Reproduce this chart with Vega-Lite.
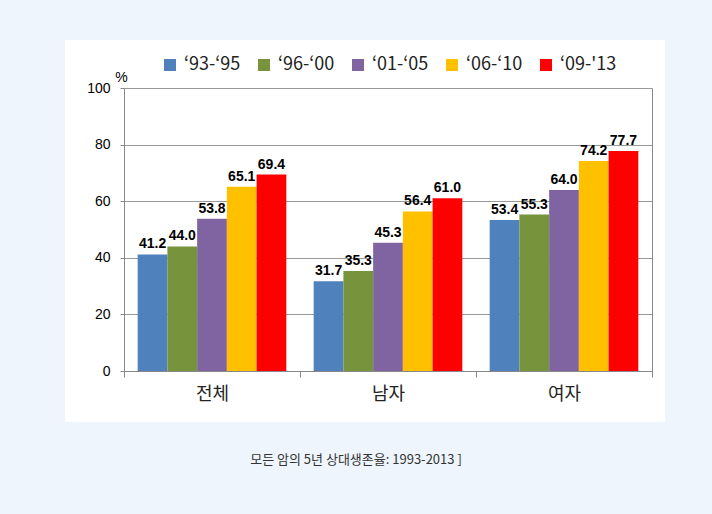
{
  "$schema": "https://vega.github.io/schema/vega-lite/v6.json",
  "width": 600,
  "height": 382,
  "autosize": {"type": "none"},
  "padding": {"left": 65, "top": 40, "right": 47, "bottom": 92},
  "background": "#eef5fc",
  "view": {"fill": "white", "stroke": null},
  "title": {
    "text": "모든 암의 5년 상대생존율: 1993-2013 ]",
    "orient": "bottom",
    "anchor": "middle",
    "offset": 32,
    "dx": -9,
    "font": "Noto Sans CJK KR",
    "fontSize": 13,
    "fontWeight": "normal",
    "color": "#333333",
    "baseline": "top"
  },
  "data": {
    "values": [
      {"group": "전체", "period": "‘93-‘95", "value": 41.2},
      {"group": "전체", "period": "‘96-‘00", "value": 44.0},
      {"group": "전체", "period": "‘01-‘05", "value": 53.8},
      {"group": "전체", "period": "‘06-‘10", "value": 65.1},
      {"group": "전체", "period": "‘09-'13", "value": 69.4},
      {"group": "남자", "period": "‘93-‘95", "value": 31.7},
      {"group": "남자", "period": "‘96-‘00", "value": 35.3},
      {"group": "남자", "period": "‘01-‘05", "value": 45.3},
      {"group": "남자", "period": "‘06-‘10", "value": 56.4},
      {"group": "남자", "period": "‘09-'13", "value": 61.0},
      {"group": "여자", "period": "‘93-‘95", "value": 53.4},
      {"group": "여자", "period": "‘96-‘00", "value": 55.3},
      {"group": "여자", "period": "‘01-‘05", "value": 64.0},
      {"group": "여자", "period": "‘06-‘10", "value": 74.2},
      {"group": "여자", "period": "‘09-'13", "value": 77.7}
    ]
  },
  "encoding": {
    "x": {
      "field": "group",
      "type": "nominal",
      "sort": ["전체", "남자", "여자"],
      "scale": {"range": [59, 587], "paddingInner": 0, "paddingOuter": 0},
      "axis": {
        "orient": "bottom",
        "offset": -51,
        "title": null,
        "labelAngle": 0,
        "tickBand": "extent",
        "tickSize": 6,
        "tickColor": "#888888",
        "domainColor": "#888888",
        "labelFont": "Noto Sans CJK KR",
        "labelFontSize": 18,
        "labelColor": "#222222",
        "labelPadding": 8,
        "grid": false
      }
    },
    "xOffset": {
      "field": "period",
      "type": "nominal",
      "sort": ["‘93-‘95", "‘96-‘00", "‘01-‘05", "‘06-‘10", "‘09-'13"],
      "scale": {"paddingInner": 0, "paddingOuter": 0.46}
    }
  },
  "layer": [
    {
      "mark": {"type": "bar"},
      "encoding": {
        "y": {
          "field": "value",
          "type": "quantitative",
          "scale": {"domain": [0, 100], "range": [331, 48], "nice": false},
          "axis": {
            "orient": "left",
            "offset": -59,
            "values": [0, 20, 40, 60, 80, 100],
            "tickSize": 4,
            "tickColor": "#888888",
            "domainColor": "#888888",
            "gridColor": "#999999",
            "grid": true,
            "labelFont": "Liberation Sans",
            "labelFontSize": 14,
            "labelColor": "#000000",
            "labelPadding": 10,
            "title": "%",
            "titleAngle": 0,
            "titleX": -3,
            "titleY": 41,
            "titleAlign": "center",
            "titleBaseline": "alphabetic",
            "titleFont": "Liberation Sans",
            "titleFontSize": 14,
            "titleFontWeight": "normal",
            "titleColor": "#000000"
          }
        },
        "color": {
          "field": "period",
          "type": "nominal",
          "sort": ["‘93-‘95", "‘96-‘00", "‘01-‘05", "‘06-‘10", "‘09-'13"],
          "scale": {"range": ["#4f81bd", "#77933c", "#8064a2", "#ffc000", "#ff0000"]},
          "legend": {
            "orient": "none",
            "legendX": 96,
            "legendY": 16,
            "direction": "horizontal",
            "columns": 5,
            "gridAlign": "all",
            "title": null,
            "symbolType": "square",
            "symbolSize": 144,
            "symbolStrokeWidth": 0,
            "labelFont": "Noto Sans CJK KR",
            "labelFontSize": 18,
            "labelColor": "#222222",
            "labelOffset": 5,
            "columnPadding": 14
          }
        }
      }
    },
    {
      "mark": {
        "type": "text",
        "baseline": "alphabetic",
        "dy": -6,
        "font": "Liberation Sans",
        "fontSize": 14,
        "fontWeight": "bold",
        "color": "#000000"
      },
      "encoding": {
        "y": {
          "field": "value",
          "type": "quantitative",
          "scale": {"domain": [0, 100], "range": [331, 48], "nice": false},
          "axis": {
            "orient": "right",
            "offset": -13,
            "labels": false,
            "ticks": false,
            "grid": false,
            "title": null,
            "domainColor": "#888888"
          }
        },
        "text": {"field": "value", "type": "quantitative", "format": ".1f"}
      }
    }
  ],
  "resolve": {"axis": {"y": "independent"}}
}
